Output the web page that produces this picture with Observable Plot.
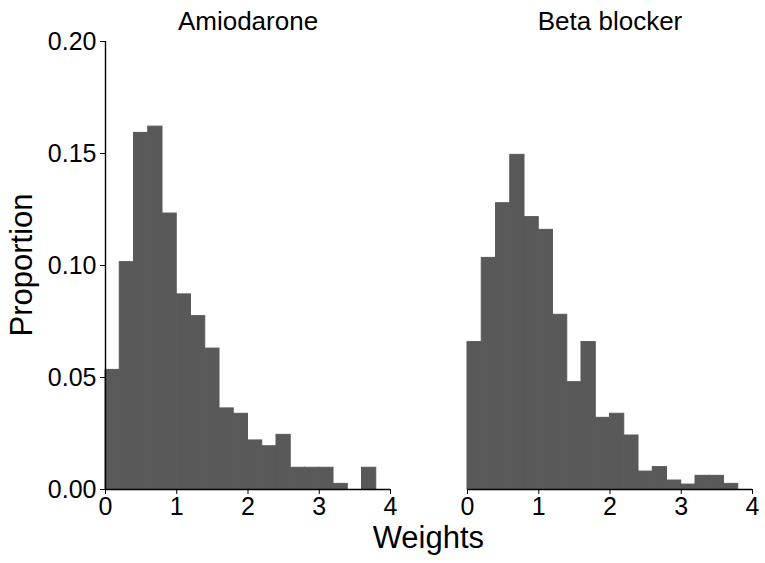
<!DOCTYPE html>
<html>
<head>
<meta charset="utf-8">
<script src="https://cdn.jsdelivr.net/npm/d3@7"></script>
<script src="https://cdn.jsdelivr.net/npm/@observablehq/plot@0.6"></script>
<style>
  html, body { margin: 0; padding: 0; background: #fff; }
  #chart svg { font-family: "Liberation Sans", Arial, sans-serif; }
</style>
</head>
<body>
<div id="chart"></div>
<script>
const facets = ["Amiodarone", "Beta blocker"];
const binStarts = [0.0, 0.2, 0.4, 0.6, 0.8, 1.0, 1.2, 1.4, 1.6, 1.8, 2.0, 2.2, 2.4, 2.6, 2.8, 3.0, 3.2, 3.4, 3.6, 3.8];
const binWidth = 0.2;
const amiodarone = [0.0534, 0.1015, 0.1592, 0.1620, 0.1232, 0.0871, 0.0774, 0.0629, 0.0362, 0.0338,
                    0.0219, 0.0193, 0.0244, 0.0097, 0.0097, 0.0097, 0.0025, 0.0000, 0.0097, 0.0000];
const betaBlocker = [0.0658, 0.1034, 0.1278, 0.1494, 0.1216, 0.1159, 0.0780, 0.0479, 0.0658, 0.0320,
                     0.0338, 0.0241, 0.0080, 0.0100, 0.0040, 0.0022, 0.0061, 0.0061, 0.0025, 0.0000];
const xTicks = [0, 1, 2, 3, 4];
const yTicks = [0, 0.05, 0.10, 0.15, 0.20];

const rows = [];
[amiodarone, betaBlocker].forEach((vals, i) => {
  vals.forEach((v, j) => rows.push({fx: facets[i], x1: binStarts[j], x2: binStarts[j] + binWidth, y: v}));
});

const W = 765, H = 563;
const mL = 104, mR = 12.3, mT = 41, mB = 74;

const plot = Plot.plot({
  width: W,
  height: H,
  marginLeft: mL,
  marginRight: mR,
  marginTop: mT,
  marginBottom: mB,
  style: {fontFamily: '"Liberation Sans", Arial, sans-serif', background: "#fff", color: "#000"},
  fx: {domain: facets, paddingInner: 0.2114, paddingOuter: 0, axis: null, label: null},
  x: {domain: [0, 4], label: null},
  y: {domain: [0, 0.2], label: null},
  marks: [
    Plot.rectY(rows, {x1: "x1", x2: "x2", y: "y", fx: "fx", fill: "#595959", stroke: "#595959", strokeWidth: 1, inset: 0}),
    Plot.ruleY([0], {stroke: "#000", strokeWidth: 1.4}),
    Plot.ruleX([{fx: facets[0], x: 0}], {x: "x", fx: "fx", stroke: "#000", strokeWidth: 1.4}),
    Plot.axisX({ticks: xTicks, tickSize: 5, tickPadding: 3, fontSize: 25, stroke: "#000", fill: "#000", label: null, tickFormat: d => String(d)}),
    Plot.axisY({ticks: yTicks, tickSize: 5, tickPadding: 4, fontSize: 25, stroke: "#000", fill: "#000", label: null, tickFormat: d => d.toFixed(2)}),
    Plot.text(facets, {fx: d => d, text: d => d, frameAnchor: "top", lineAnchor: "bottom", dy: -11.5, fontSize: 26, fill: "#000"})
  ]
});

const svg = d3.select(plot);
svg.append("text")
  .attr("x", (mL + (W - mR)) / 2)
  .attr("y", 548)
  .attr("text-anchor", "middle")
  .attr("font-size", 31)
  .attr("fill", "#000")
  .text("Weights");
svg.append("text")
  .attr("transform", `translate(32,${(mT + (H - mB)) / 2}) rotate(-90)`)
  .attr("text-anchor", "middle")
  .attr("font-size", 31)
  .attr("fill", "#000")
  .text("Proportion");

document.getElementById("chart").appendChild(plot);
</script>
</body>
</html>
